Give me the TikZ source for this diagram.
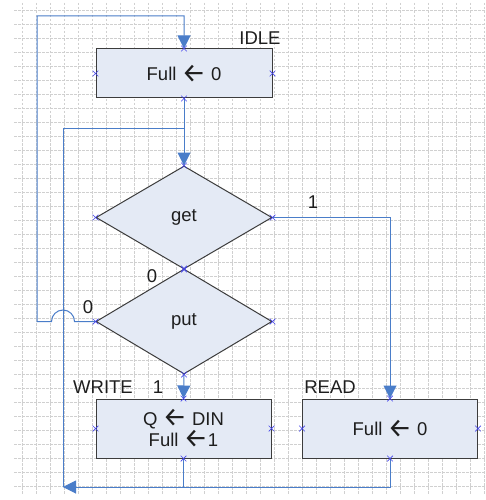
\documentclass[tikz,border=0pt]{standalone}
\usepackage{fontspec}
\setmainfont{Liberation Sans}
\newfontfamily\arrowfont{Fira Sans}
\usetikzlibrary{shapes.geometric,arrows.meta,calc}

\definecolor{boxfill}{RGB}{228,234,245}
\definecolor{boxline}{RGB}{60,60,60}
\definecolor{linkblue}{RGB}{74,125,201}
\definecolor{markblue}{RGB}{70,70,235}
\definecolor{gridgray}{RGB}{208,208,208}
\definecolor{ink}{RGB}{30,30,30}

% assignment arrow, set a little larger than the text around it
\newcommand{\assignarrow}{{\fontsize{27}{22}\arrowfont\raisebox{-1.2pt}{←}}}

\tikzset{
  statebox/.style={draw=boxline, fill=boxfill, line width=1pt, inner sep=0pt,
    text=ink, font=\fontsize{18.5}{22}\selectfont, align=center},
  decision/.style={diamond, draw=boxline, fill=boxfill, line width=1pt, inner sep=0pt,
    text=ink, font=\fontsize{18.5}{22}\selectfont},
  tag/.style={text=ink, font=\fontsize{18.5}{22}\selectfont, inner sep=0pt},
  link/.style={draw=linkblue, line width=1pt},
  flow/.style={link, -{Triangle[length=13pt,width=13pt]}},
  gridline/.style={draw=gridgray, line width=0.8pt, dash pattern=on 2.5pt off 1.5pt},
}

% small cross marking a connection point
\newcommand{\pinmark}[1]{%
  \draw[markblue, line width=0.7pt] ($(#1)+(-2.8,-2.8)$) -- ($(#1)+(2.8,2.8)$)
    ($(#1)+(-2.8,2.8)$) -- ($(#1)+(2.8,-2.8)$);}

\begin{document}
\begin{tikzpicture}[x=1pt,y=-1pt]
\useasboundingbox (0,0) rectangle (485,500);
\fill[white] (0,0) rectangle (485,500);

% background grid
\foreach \k in {0,...,33}
  \draw[gridline] (22.7+14*\k,3) -- (22.7+14*\k,495);
\foreach \k in {0,...,34}
  \draw[gridline] (14,10.7+14*\k) -- (485,10.7+14*\k);

% states and decisions
\node[statebox, minimum width=176pt, minimum height=49pt] (idle) at (184,73.5) {Full \assignarrow{} 0};
\node[decision, minimum width=176pt, minimum height=103pt] (get) at (184,217.5) {get};
\node[decision, minimum width=176pt, minimum height=105pt] (put) at (184,321.5) {put};
\node[statebox, minimum width=175pt, minimum height=59pt] (write) at (183.5,428.5) {Q \assignarrow{} DIN\\[-1pt]Full \assignarrow{}1};
\node[statebox, minimum width=175pt, minimum height=59pt] (read) at (390,428.5) {Full \assignarrow{} 0};

% labels
\node[tag] (lidle) at (260,38) {IDLE};
\node[tag] (lwrite) at (103,387) {WRITE};
\node[tag] (lread) at (330,387) {READ};
\node[tag] (lgetone) at (313,202) {1};
\node[tag] (lgetzero) at (152,276) {0};
\node[tag] (lputzero) at (88,307) {0};
\node[tag] (lputone) at (158,387) {1};

% routing points
\coordinate (join) at (184,128);
\coordinate (ret) at (63,487);

% connectors
\draw[flow] (put.west) -- (74.5,321.5) arc[start angle=0, end angle=180, radius=11.5pt]
  -- (37,321.5) -- (37,16) -- (184,16) -- (idle.north);
\draw[flow] (idle.south) -- (get.north);
\draw[link] (ret) -- (63,128) -- (join);
\draw[flow] (get.east) -- (390,217.5) -- (read.north);
\draw[flow] (put.south) -- (write.north);
\draw[link] (write.south) -- (write.south |- ret);
\draw[flow] (read.south) -- (read.south |- ret) -- (ret);

% connection points
\foreach \n in {idle,get,put,write,read}
  \foreach \a in {north,south,east,west}
    {\pinmark{\n.\a}}
\end{tikzpicture}
\end{document}
